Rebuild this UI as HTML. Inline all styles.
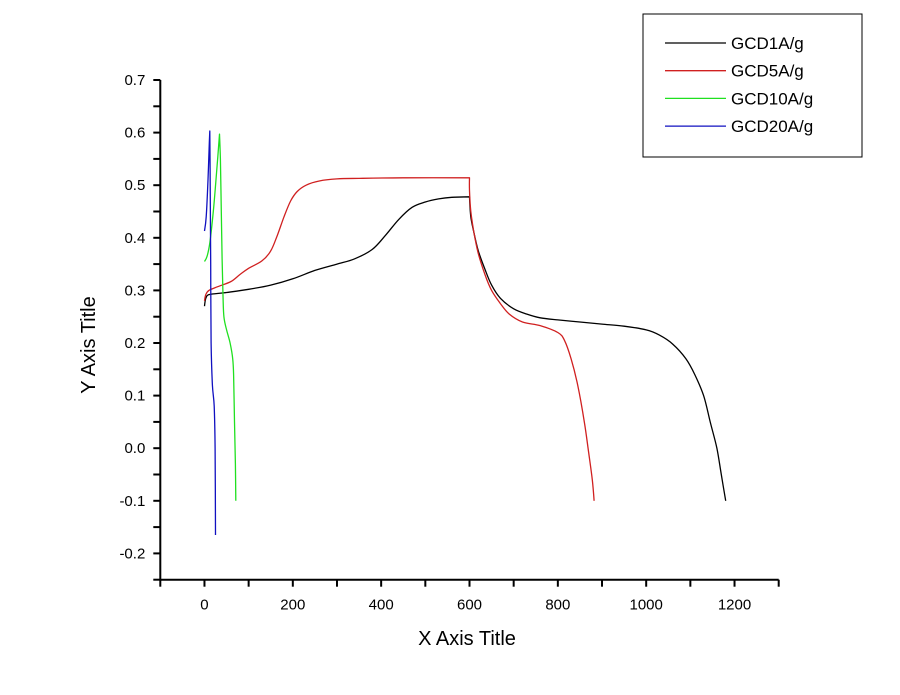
<!DOCTYPE html>
<html><head><meta charset="utf-8"><style>
body{margin:0;background:#fff;}
svg{display:block;font-family:"Liberation Sans",Arial,sans-serif;}
</style></head><body>
<svg id="chart" width="900" height="695" viewBox="0 0 900 695">
<g id="axes"></g>
<g id="series"></g>
<g id="legend">
<rect x="643" y="14" width="219" height="143" fill="#fff" stroke="#000" stroke-width="1"/>
</g>
<text x="467" y="645" font-size="20" text-anchor="middle">X Axis Title</text>
<text transform="translate(95,345) rotate(-90)" font-size="20" text-anchor="middle">Y Axis Title</text>
</svg>
<script>
const xTicks=[0,200,400,600,800,1000,1200];
const yTicks=[-0.2,-0.1,0.0,0.1,0.2,0.3,0.4,0.5,0.6,0.7];
const seriesNames=["GCD1A/g","GCD5A/g","GCD10A/g","GCD20A/g"];
const seriesColors=["#000000","#d02020","#20e020","#1010c0"];
const gcd1X=[0,3,10,50,100,150,200,250,300,340,380,410,440,470,500,530,560,600,603,610,620,635,650,670,700,730,760,800,850,900,950,1000,1030,1060,1090,1110,1130,1145,1160,1170,1180];
const gcd1Y=[0.27,0.285,0.292,0.296,0.302,0.31,0.322,0.338,0.35,0.36,0.378,0.405,0.435,0.458,0.468,0.474,0.477,0.478,0.44,0.41,0.375,0.34,0.31,0.285,0.265,0.255,0.248,0.244,0.24,0.236,0.232,0.225,0.215,0.198,0.17,0.14,0.1,0.05,0.0,-0.05,-0.1];
const gcd5X=[0,3,10,30,60,80,100,130,150,165,180,195,210,230,260,300,350,450,600,600,603,610,620,635,650,670,690,720,760,800,815,830,845,860,870,878,882];
const gcd5Y=[0.28,0.292,0.3,0.307,0.317,0.33,0.342,0.356,0.375,0.405,0.44,0.47,0.488,0.5,0.508,0.512,0.513,0.514,0.514,0.49,0.45,0.41,0.37,0.33,0.3,0.275,0.255,0.24,0.233,0.22,0.205,0.17,0.12,0.05,-0.01,-0.06,-0.1];
const gcd10X=[0,6,12,20,28,34,36,38,40,42,44,50,58,64,66,68,70,71];
const gcd10Y=[0.355,0.365,0.39,0.45,0.53,0.597,0.55,0.45,0.36,0.29,0.25,0.225,0.2,0.17,0.14,0.05,-0.03,-0.1];
const gcd20X=[0,4,8,11,12,13,14,15,18,22,24,25];
const gcd20Y=[0.413,0.44,0.51,0.58,0.603,0.5,0.35,0.2,0.12,0.08,0.0,-0.165];
const seriesX=[gcd1X,gcd5X,gcd10X,gcd20X];
const seriesY=[gcd1Y,gcd5Y,gcd10Y,gcd20Y];

const NS="http://www.w3.org/2000/svg";
const X0=-100,X1=1300,PX0=160.3,PX1=778.7;
const Y0=-0.25,Y1=0.7,PY0=579.7,PY1=80;
function sx(v){return PX0+(v-X0)/(X1-X0)*(PX1-PX0);}
function sy(v){return PY0+(v-Y0)/(Y1-Y0)*(PY1-PY0);}
function mk(tag,attrs,parent){const e=document.createElementNS(NS,tag);for(const k in attrs)e.setAttribute(k,attrs[k]);parent.appendChild(e);return e;}
const axes=document.getElementById('axes');
let a=mk('line',{x1:PX0,y1:PY0,x2:PX1,y2:PY0,stroke:'#000','stroke-width':2},axes);


a=mk('line',{x1:PX0,y1:PY0+1,x2:PX0,y2:PY1,stroke:'#000','stroke-width':2},axes);


for(let v=-100;v<=1300;v+=100){
  const t=mk('line',{x1:sx(v),y1:PY0,x2:sx(v),y2:PY0+7,stroke:'#000','stroke-width':2},axes);
  
  
}
xTicks.forEach(v=>{
  const t=mk('text',{x:sx(v),y:PY0+30,'font-size':15,'text-anchor':'middle'},axes);
  t.textContent=String(v);
  
  
});
for(let i=0;i<=19;i++){
  const v=-0.25+i*0.05;
  const t=mk('line',{x1:PX0-7,y1:sy(v),x2:PX0,y2:sy(v),stroke:'#000','stroke-width':2},axes);
  
  
}
yTicks.forEach(v=>{
  const t=mk('text',{x:PX0-15,y:sy(v)+5,'font-size':15,'text-anchor':'end'},axes);
  t.textContent=v.toFixed(1);
  
  
});
function smoothPath(pts){
  const n=pts.length;
  const tan=pts.map((p,i)=>{
    if(i===0||i===n-1)return [0,0];
    const a=pts[i-1],b=pts[i+1];
    const d1=[p[0]-a[0],p[1]-a[1]],d2=[b[0]-p[0],b[1]-p[1]];
    const l1=Math.hypot(d1[0],d1[1])||1,l2=Math.hypot(d2[0],d2[1])||1;
    const cos=(d1[0]*d2[0]+d1[1]*d2[1])/(l1*l2);
    if(cos<0.5)return [0,0];
    return [(b[0]-a[0])/6,(b[1]-a[1])/6];
  });
  let d='M'+pts[0][0].toFixed(1)+','+pts[0][1].toFixed(1);
  for(let i=0;i<n-1;i++){
    const p1=pts[i],p2=pts[i+1];
    const seg=Math.hypot(p2[0]-p1[0],p2[1]-p1[1]);
    const lim=(t)=>{const l=Math.hypot(t[0],t[1]);if(l>seg*0.45){const s=seg*0.45/l;return [t[0]*s,t[1]*s];}return t;};
    const t1=lim(tan[i]),t2=lim(tan[i+1]);
    const c1=[p1[0]+t1[0],p1[1]+t1[1]],c2=[p2[0]-t2[0],p2[1]-t2[1]];
    d+=' C'+c1[0].toFixed(1)+','+c1[1].toFixed(1)+' '+c2[0].toFixed(1)+','+c2[1].toFixed(1)+' '+p2[0].toFixed(1)+','+p2[1].toFixed(1);
  }
  return d;
}
const sg=document.getElementById('series');
seriesX.forEach((xs,i)=>{
  const pts=xs.map((x,j)=>[sx(x),sy(seriesY[i][j])]);
  const p=mk('path',{d:smoothPath(pts),fill:'none',stroke:seriesColors[i],'stroke-width':1.3,'stroke-linejoin':'round'},sg);
  
  
});
const lg=document.getElementById('legend');
seriesNames.forEach((n,i)=>{
  const y=43+i*27.7;
  const l=mk('line',{x1:665,y1:y,x2:726,y2:y,stroke:seriesColors[i],'stroke-width':1.3},lg);
  
  
  const t=mk('text',{x:731,y:y+6,'font-size':17},lg);
  t.textContent=n;
  
  
});
</script>
</body></html>
